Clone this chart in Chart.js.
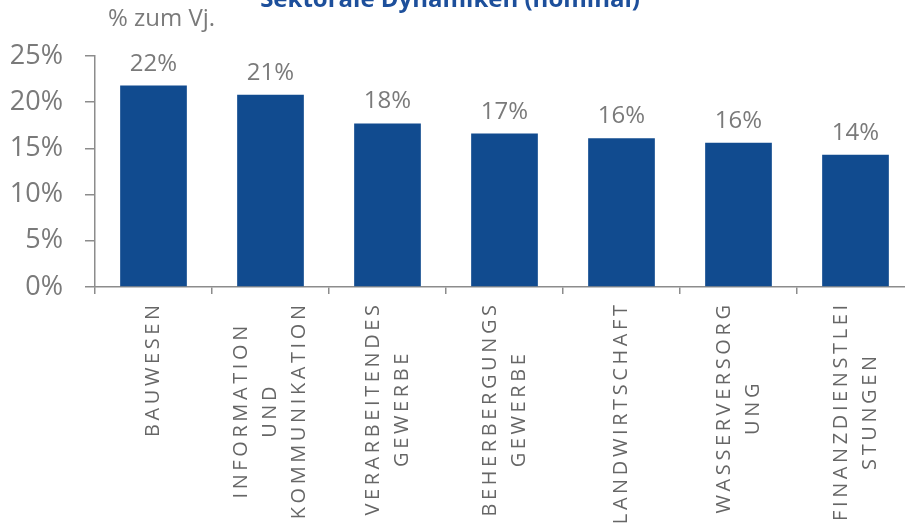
<!DOCTYPE html>
<html>
<head>
<meta charset="utf-8">
<script src="https://cdn.jsdelivr.net/npm/chart.js@4.4.1/dist/chart.umd.min.js"></script>
<style>
  html, body { margin: 0; padding: 0; overflow: hidden; background: #fff; }
  #wrap { width: 905px; height: 525px; overflow: hidden; }
</style>
</head>
<body>
<div id="wrap"><canvas id="chart" width="920" height="525"></canvas></div>
<script>
var title = 'Sektorale Dynamiken (nominal)';
var subtitle = '% zum Vj.';
var categories = [
	['BAUWESEN'],
	['INFORMATION', 'UND', 'KOMMUNIKATION'],
	['VERARBEITENDES', 'GEWERBE'],
	['BEHERBERGUNGS', 'GEWERBE'],
	['LANDWIRTSCHAFT'],
	['WASSERVERSORG', 'UNG'],
	['FINANZDIENSTLEI', 'STUNGEN']
];
var values = [21.8, 20.8, 17.7, 16.6, 16.1, 15.6, 14.3];
var yTicks = [0, 5, 10, 15, 20, 25];

var blue = '#114b8f';
var grey = '#7a7a7a';
var axisGrey = '#8c8c8c';
var font = '"Open Sans", sans-serif';

// title, subtitle, value labels and the rotated category labels
var textPlugin = {
	id: 'texts',
	afterDatasetsDraw: function(chart) {
		var ctx = chart.ctx;
		ctx.save();

		ctx.fillStyle = '#1d4f9b';
		ctx.font = 'bold 24px ' + font;
		ctx.textAlign = 'center';
		ctx.textBaseline = 'alphabetic';
		ctx.fillText(title, 450, 7);

		ctx.fillStyle = grey;
		ctx.font = '24px ' + font;
		ctx.textAlign = 'left';
		ctx.fillText(subtitle, 108, 26);

		// values above bars
		var meta = chart.getDatasetMeta(0);
		ctx.font = '24px ' + font;
		ctx.textAlign = 'center';
		meta.data.forEach(function(bar, i) {
			ctx.fillText(Math.round(values[i]) + '%', bar.x, bar.y - 15);
		});

		// category labels, rotated, lines centred, block top-aligned
		var xs = chart.scales.x;
		ctx.fillStyle = '#666666';
		ctx.font = '20px ' + font;
		ctx.letterSpacing = '3.6px';
		ctx.textBaseline = 'middle';
		var lh = 29;
		var top = xs.top + 18;
		categories.forEach(function(lines, i) {
			var cx = xs.getPixelForValue(i);
			var w = 0;
			lines.forEach(function(l) { w = Math.max(w, ctx.measureText(l).width - 3.6); });
			ctx.save();
			ctx.translate(cx, top);
			ctx.rotate(-Math.PI / 2);
			lines.forEach(function(l, j) {
				ctx.fillText(l, -w / 2 + 1.8, (j - (lines.length - 1) / 2) * lh);
			});
			ctx.restore();
		});
		ctx.restore();
	}
};

new Chart(document.getElementById('chart'), {
	type: 'bar',
	data: {
		labels: categories.map(function(c) { return c.join(' '); }),
		datasets: [{
			data: values,
			backgroundColor: blue,
			borderWidth: 0,
			barPercentage: 0.57,
			categoryPercentage: 1
		}]
	},
	options: {
		responsive: false,
		animation: false,
		layout: { padding: { top: 56, right: 6, left: 0, bottom: 0 } },
		plugins: {
			legend: { display: false },
			tooltip: { enabled: false }
		},
		scales: {
			x: {
				afterFit: function(s) { s.height = 238; },
				grid: { drawOnChartArea: false, drawTicks: true, tickLength: 7, color: axisGrey, lineWidth: 1.5 },
				border: { display: true, color: axisGrey, width: 1.5 },
				ticks: { display: false }
			},
			y: {
				min: 0,
				max: 25,
				afterFit: function(s) { s.width = 95; },
				afterBuildTicks: function(s) { s.ticks = yTicks.map(function(v) { return { value: v }; }); },
				grid: { drawOnChartArea: false, drawTicks: true, tickLength: 10, color: axisGrey, lineWidth: 1.5 },
				border: { display: true, color: axisGrey, width: 1.5 },
				ticks: {
					padding: 22,
					color: grey,
					font: { family: font, size: 27 },
					callback: function(v) { return v + '%'; }
				}
			}
		}
	},
	plugins: [textPlugin]
});
</script>
</body>
</html>
